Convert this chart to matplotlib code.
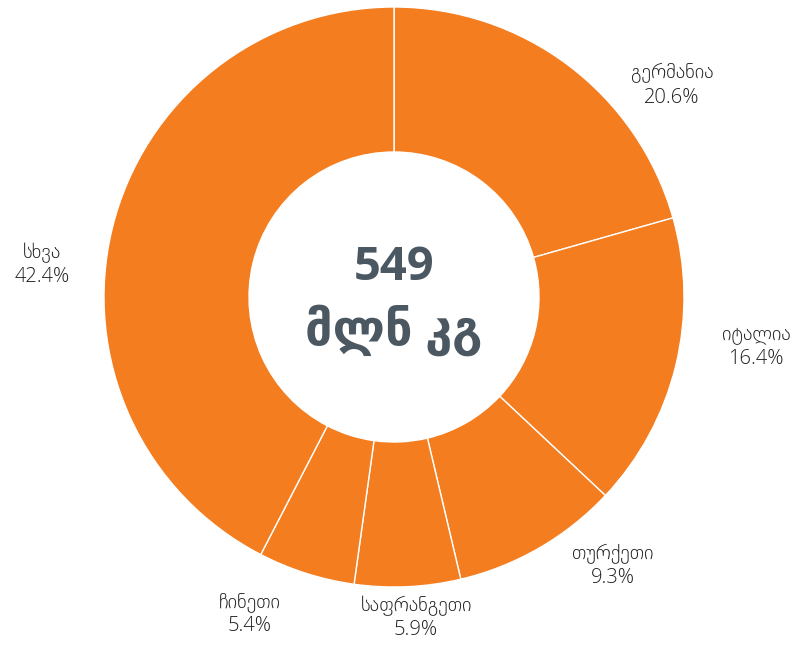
import matplotlib
matplotlib.use("Agg")
import matplotlib.pyplot as plt

categories = ["გერმანია", "იტალია", "თურქეთი", "საფრანგეთი", "ჩინეთი", "სხვა"]
shares = [20.6, 16.4, 9.3, 5.9, 5.4, 42.4]
total_value = "549"
total_unit = "მლნ კგ"

# layout (label positions in units of the outer radius)
label_pos = [(0.959, 0.728), (1.248, -0.172), (0.755, -0.928),
             (0.076, -1.107), (-0.497, -1.093), (-1.214, 0.110)]

orange = "#F47D20"
text_dark = "#4B5862"

fig = plt.figure(figsize=(8.03, 6.45), dpi=100)
ax = fig.add_axes([0, 0, 1, 1])
ax.pie(shares, startangle=90, counterclock=False, radius=1.0,
       colors=[orange] * len(shares),
       wedgeprops=dict(width=0.5, edgecolor="white", linewidth=1.0))
ax.set_xlim(-394 / 290, (803 - 394) / 290)
ax.set_ylim((297 - 645) / 290, 297 / 290)
ax.set_aspect("auto")
ax.axis("off")

fam = ["Open Sans", "DejaVu Sans"]
for cat, val, (x, y) in zip(categories, shares, label_pos):
    ax.text(x, y, f"{cat}\n{val:.1f}%", ha="center", va="center",
            fontsize=14.5, color="#1f1f1f", family=fam, fontweight="light",
            linespacing=1.3)

ax.text(0, 0.10, total_value, ha="center", va="center", fontsize=34,
        fontweight="bold", color=text_dark, family=fam)
ax.text(0, -0.115, total_unit, ha="center", va="center", fontsize=35,
        fontweight="bold", color=text_dark, family=fam)

fig.savefig("out.png", dpi=100)
